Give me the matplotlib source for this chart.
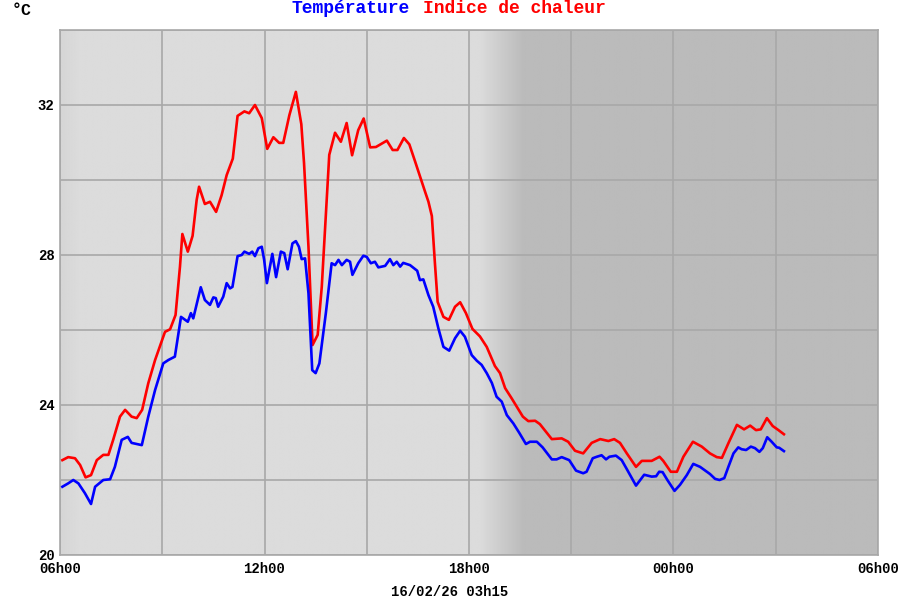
import numpy as np
import matplotlib
matplotlib.use("Agg")
import matplotlib.pyplot as plt

# hours after 06h00 (16/02/26) -> temperature (°C)
temp_h = [0.07, 0.24, 0.39, 0.54, 0.73, 0.91, 1.03, 1.27, 1.47, 1.61, 1.81, 1.99,
          2.10, 2.40, 2.59, 2.79, 3.03, 3.18, 3.37, 3.55, 3.75, 3.84, 3.91, 4.13,
          4.25, 4.40, 4.50, 4.57, 4.64, 4.79, 4.89, 4.99, 5.06, 5.21, 5.33, 5.41,
          5.55, 5.64, 5.72, 5.82, 5.92, 5.99, 6.07, 6.23, 6.34, 6.48, 6.58, 6.68,
          6.82, 6.92, 7.01, 7.09, 7.19, 7.29, 7.40, 7.50, 7.61, 7.80, 7.97, 8.07,
          8.17, 8.27, 8.41, 8.51, 8.58, 8.75, 8.90, 9.00, 9.12, 9.24, 9.34, 9.54,
          9.68, 9.78, 9.88, 9.98, 10.07, 10.27, 10.48, 10.56, 10.66, 10.81, 10.95,
          11.10, 11.25, 11.42, 11.59, 11.74, 11.88, 12.08, 12.23, 12.37, 12.52,
          12.67, 12.81, 12.96, 13.11, 13.30, 13.48, 13.67, 13.79, 13.99, 14.16,
          14.43, 14.57, 14.72, 14.94, 15.14, 15.35, 15.45, 15.63, 15.75, 15.89,
          16.02, 16.12, 16.31, 16.48, 16.63, 16.90, 17.14, 17.36, 17.49, 17.58,
          17.68, 17.82, 18.03, 18.19, 18.39, 18.58, 18.78, 19.07, 19.22, 19.35,
          19.49, 19.61, 19.76, 19.90, 20.00, 20.13, 20.27, 20.39, 20.52, 20.62,
          20.75, 20.88, 21.03, 21.10, 21.24]
temp_v = [21.82, 21.91, 22.00, 21.91, 21.65, 21.36, 21.82, 22.00, 22.02, 22.35, 23.07, 23.15,
          22.99, 22.93, 23.69, 24.40, 25.11, 25.20, 25.29, 26.35, 26.22, 26.45, 26.31, 27.14,
          26.80, 26.67, 26.87, 26.85, 26.62, 26.89, 27.25, 27.11, 27.15, 27.97, 28.00, 28.09,
          28.03, 28.09, 27.97, 28.18, 28.22, 27.87, 27.25, 28.03, 27.41, 28.09, 28.05, 27.62,
          28.31, 28.37, 28.22, 27.89, 27.91, 26.98, 24.93, 24.85, 25.11, 26.45, 27.78, 27.73,
          27.87, 27.73, 27.87, 27.82, 27.47, 27.78, 27.98, 27.95, 27.78, 27.82, 27.67, 27.71,
          27.89, 27.73, 27.82, 27.69, 27.79, 27.73, 27.58, 27.33, 27.35, 26.93, 26.62,
          26.05, 25.55, 25.45, 25.78, 25.98, 25.82, 25.33, 25.18, 25.07, 24.85,
          24.59, 24.22, 24.09, 23.73, 23.51, 23.25, 22.96, 23.02, 23.02, 22.87,
          22.55, 22.55, 22.61, 22.53, 22.25, 22.18, 22.22, 22.58, 22.62, 22.66,
          22.55, 22.62, 22.65, 22.53, 22.29, 21.85, 22.14, 22.09, 22.10, 22.22,
          22.21, 22.00, 21.71, 21.87, 22.13, 22.43, 22.35, 22.16, 22.03, 22.00,
          22.05, 22.35, 22.71, 22.87, 22.82, 22.80, 22.89, 22.85, 22.75, 22.85,
          23.14, 23.02, 22.87, 22.86, 22.77]

# hours after 06h00 -> heat index (°C)
heat_h = [0.07, 0.24, 0.44, 0.59, 0.75, 0.91, 1.08, 1.27, 1.42, 1.56, 1.76, 1.91,
          2.10, 2.25, 2.41, 2.59, 2.79, 3.08, 3.23, 3.39, 3.52, 3.59, 3.75, 3.89,
          4.01, 4.08, 4.25, 4.40, 4.58, 4.74, 4.89, 5.07, 5.21, 5.41, 5.55, 5.72,
          5.92, 6.08, 6.26, 6.43, 6.55, 6.73, 6.92, 7.08, 7.16, 7.29, 7.41, 7.56,
          7.68, 7.90, 8.07, 8.24, 8.41, 8.57, 8.75, 8.91, 9.10, 9.27, 9.59, 9.76,
          9.90, 10.09, 10.25, 10.42, 10.71, 10.81, 10.91, 11.00, 11.08, 11.25,
          11.41, 11.59, 11.74, 11.91, 12.10, 12.32, 12.52, 12.76, 12.91, 13.06,
          13.25, 13.58, 13.74, 13.94, 14.08, 14.43, 14.72, 14.91, 15.11, 15.35,
          15.60, 15.85, 16.09, 16.26, 16.43, 16.63, 16.90, 17.07, 17.36, 17.59,
          17.70, 17.92, 18.10, 18.29, 18.57, 18.83, 19.07, 19.27, 19.42, 19.61,
          19.86, 20.07, 20.25, 20.42, 20.56, 20.74, 20.91, 21.08, 21.24]
heat_v = [22.53, 22.61, 22.58, 22.40, 22.07, 22.13, 22.53, 22.67, 22.67, 23.07, 23.69, 23.87,
          23.69, 23.65, 23.87, 24.58, 25.20, 25.95, 26.02, 26.40, 27.69, 28.56, 28.09, 28.51,
          29.47, 29.82, 29.36, 29.42, 29.15, 29.59, 30.13, 30.57, 31.71, 31.83, 31.78, 32.00,
          31.65, 30.83, 31.14, 30.99, 30.99, 31.73, 32.35, 31.49, 30.45, 28.22, 25.60, 25.87,
          27.15, 30.67, 31.26, 31.02, 31.52, 30.66, 31.33, 31.64, 30.87, 30.88, 31.05, 30.80,
          30.80, 31.12, 30.95, 30.49, 29.69, 29.42, 29.04, 27.78, 26.75, 26.35,
          26.27, 26.62, 26.74, 26.45, 26.03, 25.83, 25.55, 25.04, 24.85, 24.45,
          24.18, 23.69, 23.57, 23.58, 23.49, 23.09, 23.11, 23.02, 22.78, 22.71,
          22.99, 23.09, 23.04, 23.09, 22.99, 22.71, 22.35, 22.51, 22.51, 22.62,
          22.51, 22.22, 22.22, 22.62, 23.02, 22.89, 22.71, 22.61, 22.59, 22.98,
          23.47, 23.35, 23.45, 23.33, 23.35, 23.65, 23.44, 23.33, 23.22]

x_ticks = [0, 6, 12, 18, 24]
x_labels = ["06h00", "12h00", "18h00", "00h00", "06h00"]
y_ticks = [20, 24, 28, 32]

# day / night shading (grey level per hour)
shade_h = [-0.85, 0.6, 12.3, 13.6, 24]
shade_g = [203, 220, 220, 187, 187]

mono = "Liberation Mono"

fig = plt.figure(figsize=(9, 6), dpi=100)
ax = fig.add_axes([60 / 900, 45 / 600, 818 / 900, 525 / 600])

hh = np.linspace(0, 24, 1200)
grey = np.interp(hh, shade_h, shade_g) / 255.0
bg = np.tile(grey, (2, 1))
ax.imshow(bg, extent=[0, 24, 20, 34], aspect="auto", cmap="gray",
          vmin=0, vmax=1, interpolation="bilinear", zorder=0)

ax.plot(heat_h, heat_v, color="#ff0000", lw=1.9, zorder=3)
ax.plot(temp_h, temp_v, color="#0000ff", lw=1.9, zorder=3)

ax.set_xlim(0, 24)
ax.set_ylim(20, 34)
ax.set_xticks(x_ticks)
ax.set_xticklabels(x_labels)
ax.set_xticks(np.arange(3, 24, 6), minor=True)
ax.set_yticks(y_ticks)
ax.set_yticks([22, 26, 30, 34], minor=True)
ax.grid(True, which="both", color="#a8a8a8", lw=1.2)
ax.tick_params(which="both", length=0)
ax.tick_params(axis="x", pad=5)
ax.tick_params(axis="y", pad=4)
for lab in ax.get_xticklabels() + ax.get_yticklabels():
    lab.set_fontfamily(mono)
    lab.set_fontweight("bold")
    lab.set_fontsize(10)
for s in ax.spines.values():
    s.set_color("#a8a8a8")
    s.set_linewidth(1.2)

fig.text(12 / 900, 1 - 15 / 600, "°C", fontfamily=mono, fontweight="bold",
         fontsize=12, va="baseline", ha="left")
fig.text(291 / 900, 1 - 13 / 600, "Température", fontfamily=mono,
         fontweight="bold", fontsize=13, color="#0000ff", va="baseline", ha="left")
fig.text(423 / 900, 1 - 13 / 600, "Indice de chaleur", fontfamily=mono,
         fontweight="bold", fontsize=13, color="#ff0000", va="baseline", ha="left")
fig.text(0.5, 4 / 600, "16/02/26 03h15", fontfamily=mono, fontweight="bold",
         fontsize=10, va="baseline", ha="center")

fig.savefig("out.png", dpi=100)
